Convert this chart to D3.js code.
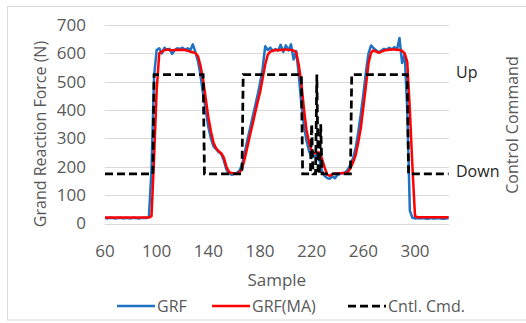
<!DOCTYPE html>
<html>
<head>
<meta charset="utf-8">
<script src="https://cdn.jsdelivr.net/npm/d3@7"></script>
<style>
  body { margin: 0; background: #fff; }
  svg { font-family: "Open Sans", sans-serif; }
</style>
</head>
<body>
<div id="chart"></div>
<script>
// sample index (every 2nd sample)
const samples = d3.range(60, 327, 2)

// Grand reaction force, raw (N)
const grf = [
  19, 18, 20, 19, 18, 19, 20, 18, 19, 19, 18, 20, 19, 18, 19, 20, 19,   // 60-92
  24, 190, 520, 612, 618, 600, 620, 612, 616, 598, 612, 618, 615, 620, // 94-120
  612, 618, 610, 632, 604, 572, 520, 455, 400, 340, 300, 272, 262, 252, // 122-148
  245, 222, 190, 176, 172, 175, 178, 186, 205, 245, 290, 330, 370, 410, // 150-176
  450, 495, 545, 625, 612, 620, 608, 615, 610, 630, 605, 628, 610, 632, // 178-204
  578, 608, 525, 420, 345, 292, 255, 232, 238, 242, 222, 186, 168, 160, // 206-232
  158, 166, 160, 172, 175, 177, 180, 190, 208, 230, 265, 320, 385, 455, // 234-260
  535, 600, 628, 618, 610, 604, 610, 616, 612, 620, 614, 622, 612, 654, // 262-288
  566, 598, 400, 45, 20, 18, 19,                                        // 290-302
  18, 19, 18, 17, 19, 18, 18, 19, 18, 17, 18, 19                        // 304-326
]

// moving average of GRF (N)
const grfMA = [
  21, 21, 21, 21, 21, 21, 21, 21, 21, 21, 21, 21, 21, 21, 21, 21, 21,
  21, 26, 230, 470, 600, 606, 611, 614, 612, 611, 612, 613, 612, 613,
  612, 609, 606, 604, 601, 590, 555, 505, 440, 375, 325, 285, 265, 255,
  248, 232, 200, 182, 178, 176, 175, 180, 192, 225, 265, 307, 345, 385,
  425, 461, 510, 560, 595, 606, 610, 612, 611, 613, 612, 614, 613, 612,
  610, 604, 560, 495, 405, 330, 285, 255, 248, 250, 250, 228, 198, 172,
  168, 174, 176, 176, 177, 178, 178, 181, 195, 215, 240, 285, 335, 410,
  485, 565, 603, 611, 606, 602, 606, 610, 612, 613, 614, 614, 613, 612,
  609, 600, 570, 400, 200, 26, 22,
  22, 22, 22, 22, 22, 22, 22, 22, 22, 22, 22, 22
]

// control command (0 = Down, 1 = Up)
const cmdSamples = [60, 97, 98, 136, 137, 166, 167, 212, 213, 219, 220, 221, 223, 224, 225, 226, 227, 228, 250, 251, 294, 295, 326]
const cmdValues  = [0, 0, 1, 1, 0, 0, 1, 1, 0, 0, 0.5, 0, 0, 1, 0, 0, 0.5, 0, 0, 1, 1, 0, 0]

const yTicks = [0, 100, 200, 300, 400, 500, 600, 700]
const xTicks = [60, 100, 140, 180, 220, 260, 300]
const cmdLabels = [{v: 1, t: 'Up'}, {v: 0, t: 'Down'}]

const width = 526, height = 323
const plotL = 105, plotR = 448.6, plotT = 25, plotB = 223.5
const grey = '#595959'

const svg = d3.select('#chart').append('svg')
  .attr('width', width)
  .attr('height', height)

svg.append('rect')
  .attr('x', 7.5).attr('y', 6.5)
  .attr('width', 530).attr('height', 313.5)
  .attr('fill', '#fff')
  .attr('stroke', '#d9d9d9')

const x = d3.scaleLinear().domain([60, 326]).range([plotL, plotR])
const y = d3.scaleLinear().domain([0, 700]).range([plotB, plotT])
// secondary axis: Down sits at 175 N, Up at 525 N on the primary scale
const y2 = d3.scaleLinear().domain([-0.5, 1.5]).range([plotB, plotT])

// gridlines
svg.append('g')
  .selectAll('line')
  .data(yTicks)
  .enter()
  .append('line')
  .attr('x1', plotL).attr('x2', plotR + 0.5)
  .attr('y1', d => Math.round(y(d)) + 0.5)
  .attr('y2', d => Math.round(y(d)) + 0.5)
  .attr('stroke', '#d9d9d9')

// left axis labels
svg.append('g')
  .selectAll('text')
  .data(yTicks)
  .enter()
  .append('text')
  .attr('x', 86)
  .attr('y', d => y(d))
  .attr('dy', '0.35em')
  .attr('text-anchor', 'end')
  .attr('font-size', 17)
  .attr('fill', grey)
  .text(d => d)

// bottom axis labels
svg.append('g')
  .selectAll('text')
  .data(xTicks)
  .enter()
  .append('text')
  .attr('x', d => x(d))
  .attr('y', 251)
  .attr('dy', '0.35em')
  .attr('text-anchor', 'middle')
  .attr('font-size', 17)
  .attr('fill', grey)
  .text(d => d)

// right axis labels
svg.append('g')
  .selectAll('text')
  .data(cmdLabels)
  .enter()
  .append('text')
  .attr('x', 456)
  .attr('y', d => y2(d.v) - 2)
  .attr('dy', '0.35em')
  .attr('font-size', 16)
  .attr('fill', '#262626')
  .text(d => d.t)

svg.append('text')
  .attr('transform', 'translate(40,134)rotate(-90)')
  .attr('text-anchor', 'middle')
  .attr('dy', '0.35em')
  .attr('font-size', 16)
  .attr('fill', grey)
  .text('Grand Reaction Force (N)')

svg.append('text')
  .attr('transform', 'translate(512,125)rotate(-90)')
  .attr('text-anchor', 'middle')
  .attr('dy', '0.35em')
  .attr('font-size', 16)
  .attr('fill', grey)
  .text('Control Command')

svg.append('text')
  .attr('x', (plotL + plotR) / 2)
  .attr('y', 280)
  .attr('dy', '0.35em')
  .attr('text-anchor', 'middle')
  .attr('font-size', 17)
  .attr('fill', grey)
  .text('Sample')

// series
const line = d3.line()
  .x(d => x(d[0]))
  .y(d => y(d[1]))

svg.append('path')
  .datum(samples.map((s, i) => [s, grf[i]]))
  .attr('d', line)
  .attr('fill', 'none')
  .attr('stroke', '#1f72c4')
  .attr('stroke-width', 2.5)
  .attr('stroke-linejoin', 'round')

svg.append('path')
  .datum(samples.map((s, i) => [s, grfMA[i]]))
  .attr('d', line)
  .attr('fill', 'none')
  .attr('stroke', '#ff0000')
  .attr('stroke-width', 2.5)
  .attr('stroke-linejoin', 'round')

svg.append('path')
  .datum(cmdSamples.map((s, i) => [s, cmdValues[i]]))
  .attr('d', d3.line().x(d => x(d[0])).y(d => y2(d[1])))
  .attr('fill', 'none')
  .attr('stroke', '#000')
  .attr('stroke-width', 2.75)
  .attr('stroke-dasharray', '8,4')

// legend
const legend = [
  {name: 'GRF', color: '#1f72c4', dash: null, x: 117},
  {name: 'GRF(MA)', color: '#ff0000', dash: null, x: 212},
  {name: 'Cntl. Cmd.', color: '#000', dash: '8,4', x: 348}
]
const lg = svg.append('g')
  .selectAll('g')
  .data(legend)
  .enter()
  .append('g')
  .attr('transform', d => 'translate(' + d.x + ',306)')

lg.append('line')
  .attr('x1', 0).attr('x2', 38)
  .attr('stroke', d => d.color)
  .attr('stroke-width', d => d.dash ? 2.75 : 2.5)
  .attr('stroke-dasharray', d => d.dash)

lg.append('text')
  .attr('x', 40)
  .attr('dy', '0.35em')
  .attr('font-size', 16)
  .attr('fill', grey)
  .text(d => d.name)
</script>
</body>
</html>
